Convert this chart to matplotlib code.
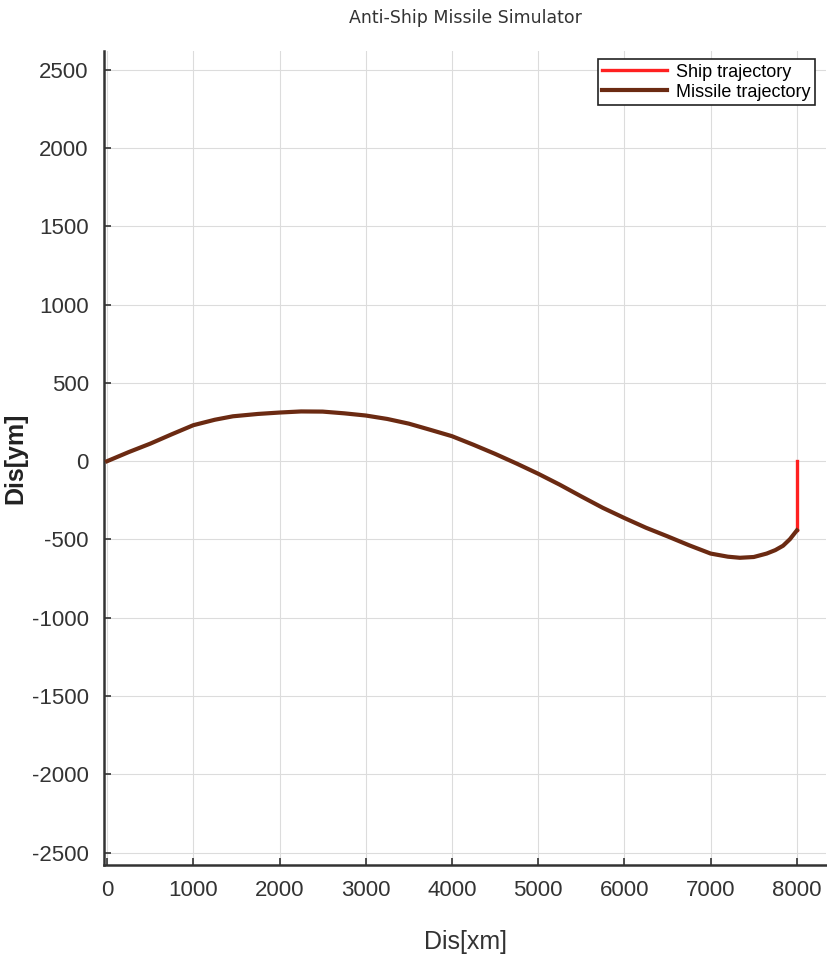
import matplotlib
matplotlib.use("Agg")
import matplotlib.pyplot as plt

# trajectory points
missile_x = [0, 250, 500, 750, 1000, 1250, 1460, 1750, 2000, 2250, 2500, 2750, 3000,
             3250, 3500, 3740, 4000, 4250, 4500, 4750, 5000, 5250, 5500, 5750, 6000,
             6250, 6500, 6750, 7000, 7200, 7340, 7500, 7650, 7750, 7840, 7920, 8000]
missile_y = [0, 58, 112, 172, 230, 265, 287, 302, 311, 318, 317, 306, 292,
             270, 240, 202, 160, 105, 47, -15, -80, -150, -225, -298, -363,
             -425, -480, -537, -590, -610, -617, -612, -590, -568, -540, -498, -442]
ship_x = [8000, 8000]
ship_y = [0, -442]

xticks = [0, 1000, 2000, 3000, 4000, 5000, 6000, 7000, 8000]
yticks = [-2500, -2000, -1500, -1000, -500, 0, 500, 1000, 1500, 2000, 2500]

plt.rcParams["axes.unicode_minus"] = False
plt.rcParams["font.family"] = ["Liberation Sans", "DejaVu Sans"]

fig = plt.figure(figsize=(8.27, 9.65), dpi=100)
ax = fig.add_axes([0.1258, 0.1036, 0.8732, 0.8434])

ax.plot(ship_x, ship_y, color="#ff2020", lw=2.4, label="Ship trajectory", zorder=3)
ax.plot(missile_x, missile_y, color="#6b2a12", lw=3.0, label="Missile trajectory", zorder=4)

ax.set_xlim(-35, 8340)
ax.set_ylim(-2580, 2620)
ax.set_xticks(xticks)
ax.set_yticks(yticks)
ax.grid(True, color="#dcdcdc", lw=0.8)
ax.set_axisbelow(True)

for s in ["top", "right"]:
    ax.spines[s].set_visible(False)
for s in ["left", "bottom"]:
    ax.spines[s].set_linewidth(1.8)
    ax.spines[s].set_color("#333333")

ax.tick_params(direction="in", length=5, width=1.2, color="#333333", pad=11,
               labelcolor="#333333", labelsize=16)

ax.set_title("Anti-Ship Missile Simulator", fontfamily="DejaVu Sans", fontsize=12.5,
             color="#333333", pad=20)
ax.set_xlabel("Dis[xm]", fontsize=18, color="#333333")
ax.set_ylabel("Dis[ym]", fontsize=18, color="#222222", fontweight="bold")
ax.xaxis.set_label_coords(0.5, -0.08)
ax.yaxis.set_label_coords(-0.106, 0.5)

leg = ax.legend(loc="upper right", bbox_to_anchor=(0.985, 0.99), prop={"size": 13},
                fancybox=False, framealpha=1, edgecolor="#222222", handlelength=3.6,
                borderpad=0.25, labelspacing=0.15, handletextpad=0.5, borderaxespad=0)
leg.get_frame().set_linewidth(1.2)

fig.savefig("out.png", dpi=100)
